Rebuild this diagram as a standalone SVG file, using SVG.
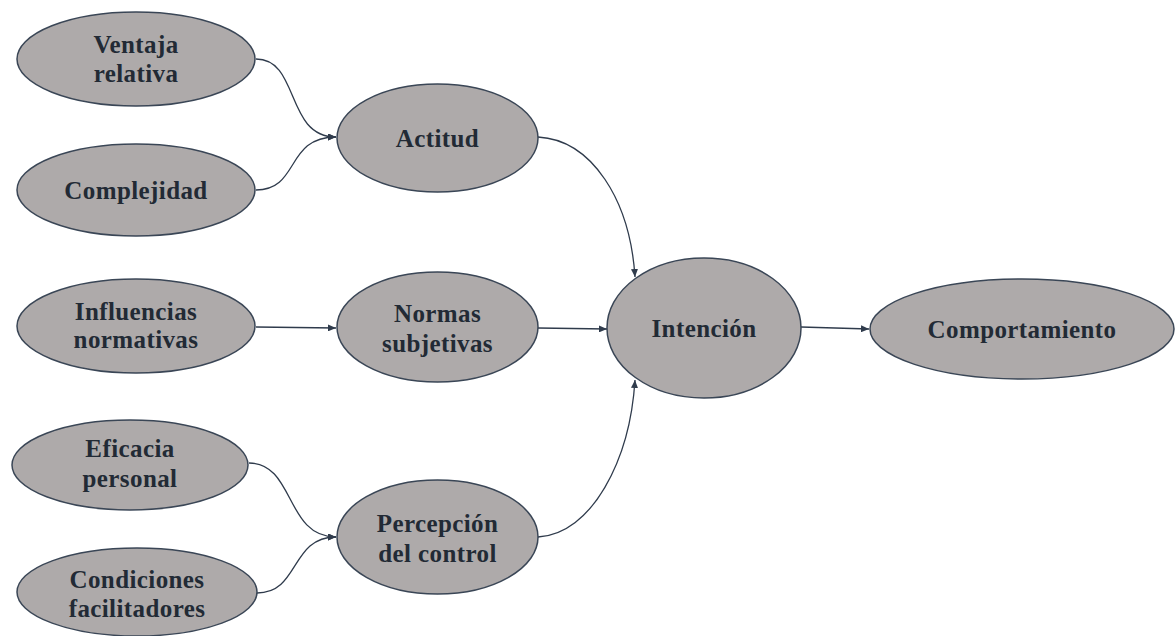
<svg xmlns="http://www.w3.org/2000/svg" width="1176" height="636" viewBox="0 0 1176 636">
<defs>
<marker id="ah" viewBox="0 0 8 7" refX="8" refY="3.5" markerWidth="8" markerHeight="7" markerUnits="userSpaceOnUse" orient="auto">
<path d="M0,0 L8,3.5 L0,7 z" fill="#2f3b4c"/>
</marker>
<style>
.n ellipse{fill:#aeaaaa;stroke:#3a4656;stroke-width:1.5}
.n text{font-family:"Liberation Serif","Times New Roman",serif;font-weight:bold;font-size:25px;letter-spacing:0.4px;fill:#222a35;text-anchor:middle}
.c path{fill:none;stroke:#2f3b4c;stroke-width:1.3;marker-end:url(#ah)}
</style>
</defs>
<rect width="1176" height="636" fill="#ffffff"/>
<g class="c" id="connectors">
<path d="M256,59 C300,59 285,137 336,137"/>
<path d="M256,190 C300,190 285,137 336,137"/>
<path d="M256,327 L336,328"/>
<path d="M249,463 C295,463 285,537 336,537"/>
<path d="M257,593 C300,593 290,537 336,537"/>
<path d="M538,137 C592,140 630,200 635,277"/>
<path d="M538,328 L607,329"/>
<path d="M538,537 C592,534 630,460 635,380"/>
<path d="M801,327 L869,329"/>
</g>
<g class="n" id="ventaja"><ellipse cx="136" cy="59" rx="119" ry="47"/><text x="136" y="53">Ventaja</text><text x="136" y="82">relativa</text></g>
<g class="n" id="complejidad"><ellipse cx="136" cy="190" rx="119" ry="46"/><text x="136" y="199">Complejidad</text></g>
<g class="n" id="influencias"><ellipse cx="136" cy="326" rx="119" ry="47"/><text x="136" y="320">Influencias</text><text x="136" y="348">normativas</text></g>
<g class="n" id="eficacia"><ellipse cx="130" cy="465" rx="118" ry="45"/><text x="130" y="457">Eficacia</text><text x="130" y="487">personal</text></g>
<g class="n" id="condiciones"><ellipse cx="137" cy="592" rx="120" ry="44"/><text x="137" y="588">Condiciones</text><text x="137" y="617">facilitadores</text></g>
<g class="n" id="actitud"><ellipse cx="437.5" cy="138" rx="100.5" ry="54"/><text x="437.5" y="147">Actitud</text></g>
<g class="n" id="normas"><ellipse cx="437.5" cy="327" rx="100.5" ry="55"/><text x="437.5" y="322">Normas</text><text x="437.5" y="352">subjetivas</text></g>
<g class="n" id="percepcion"><ellipse cx="437.5" cy="537" rx="100.5" ry="57"/><text x="437.5" y="532">Percepción</text><text x="437.5" y="562">del control</text></g>
<g class="n" id="intencion"><ellipse cx="704" cy="328" rx="97" ry="70"/><text x="704" y="337">Intención</text></g>
<g class="n" id="comportamiento"><ellipse cx="1022" cy="329" rx="152" ry="50"/><text x="1022" y="338">Comportamiento</text></g>
</svg>
